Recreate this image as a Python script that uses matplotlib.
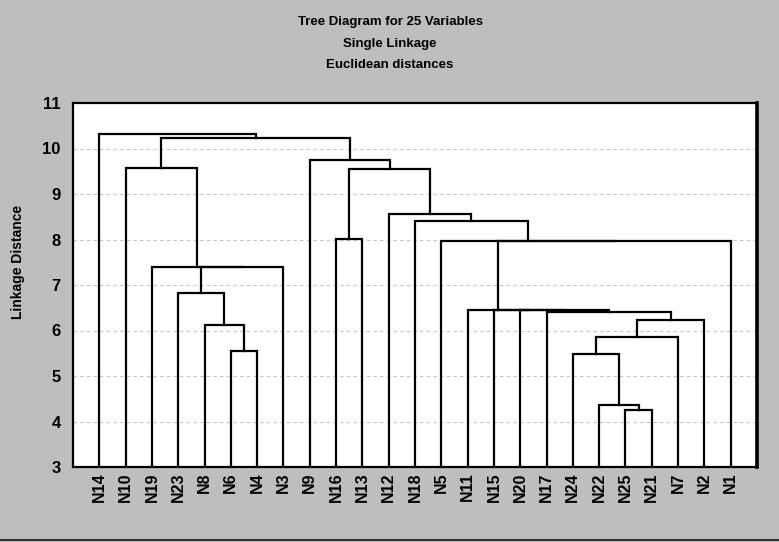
import matplotlib
matplotlib.use('Agg')
import matplotlib.pyplot as plt
from matplotlib.lines import Line2D

# leaf order as drawn, left to right
leaves = ['N14', 'N10', 'N19', 'N23', 'N8', 'N6', 'N4', 'N3', 'N9', 'N16',
          'N13', 'N12', 'N18', 'N5', 'N11', 'N15', 'N20', 'N17', 'N24', 'N22',
          'N25', 'N21', 'N7', 'N2', 'N1']

# merges, scipy-like: index < 25 is a leaf, otherwise 25 + merge row
merge_left = [20, 19, 18, 5, 27, 4, 29, 17, 16, 15, 14, 3, 36, 2, 35, 13,
              9, 12, 11, 41, 1, 8, 45, 0]
merge_right = [21, 25, 26, 6, 22, 28, 23, 31, 32, 33, 34, 30, 7, 37, 24, 39,
               10, 40, 42, 43, 38, 44, 46, 47]
merge_height = [4.25, 4.37, 5.49, 5.55, 5.85, 6.11, 6.22, 6.41, 6.44, 6.45,
                6.46, 6.83, 7.39, 7.40, 7.96, 7.97, 8.02, 8.40, 8.57, 9.56,
                9.57, 9.74, 10.22, 10.31]

title_lines = ['Tree Diagram for 25 Variables', 'Single Linkage',
               'Euclidean distances']
y_label = 'Linkage Distance'
y_ticks = [3, 4, 5, 6, 7, 8, 9, 10, 11]

bg = '#bebebe'
fnt = 'Liberation Sans'

fig = plt.figure(figsize=(7.79, 5.42), dpi=100, facecolor=bg)
ax = fig.add_axes([73 / 779, 1 - 467 / 542, 684 / 779, 364 / 542])
ax.set_facecolor('white')

ymin = 3
n = len(leaves)
xs = {i: i + 1.0 for i in range(n)}
ys = {i: ymin for i in range(n)}

# draw each merge as a bracket, parent sits at the midpoint of its children
for k in range(len(merge_height)):
    a, b, h = merge_left[k], merge_right[k], merge_height[k]
    ax.plot([xs[a], xs[a], xs[b], xs[b]], [ys[a], h, h, ys[b]],
            color='black', lw=1.6, solid_joinstyle='miter', zorder=3)
    xs[n + k] = (xs[a] + xs[b]) / 2
    ys[n + k] = h

ax.set_xlim(0, n + 1)
ax.set_ylim(3, 11)
ax.set_yticks(y_ticks)
ax.set_yticklabels([str(t) for t in y_ticks], fontsize=12, fontweight='bold',
                   family=fnt)
for t in y_ticks[1:-1]:
    ax.axhline(t, color='#c4c4c4', lw=0.8, ls=(0, (3, 3)), zorder=1)

ax.set_xticks(range(1, n + 1))
ax.set_xticklabels(leaves, rotation=90, fontsize=11.5, fontweight='bold',
                   family=fnt)
ax.tick_params(axis='x', length=0, pad=4)
ax.tick_params(axis='y', length=0, pad=9)

for side in ['left', 'bottom', 'top']:
    ax.spines[side].set_linewidth(1.6)
ax.spines['right'].set_linewidth(2.6)

fig.text(18 / 779, 1 - 262 / 542, y_label, rotation=90, ha='center',
         va='center', fontsize=10, fontweight='bold', family=fnt)
for i, line in enumerate(title_lines):
    fig.text(390 / 779, 1 - (22 + 21.7 * i) / 542, line, ha='center',
             va='center', fontsize=9.5, fontweight='bold', family=fnt)

fig.add_artist(Line2D([0, 1], [2 / 542, 2 / 542], color='#303030', lw=1.5))

fig.savefig('out.png', dpi=100, facecolor=bg)
